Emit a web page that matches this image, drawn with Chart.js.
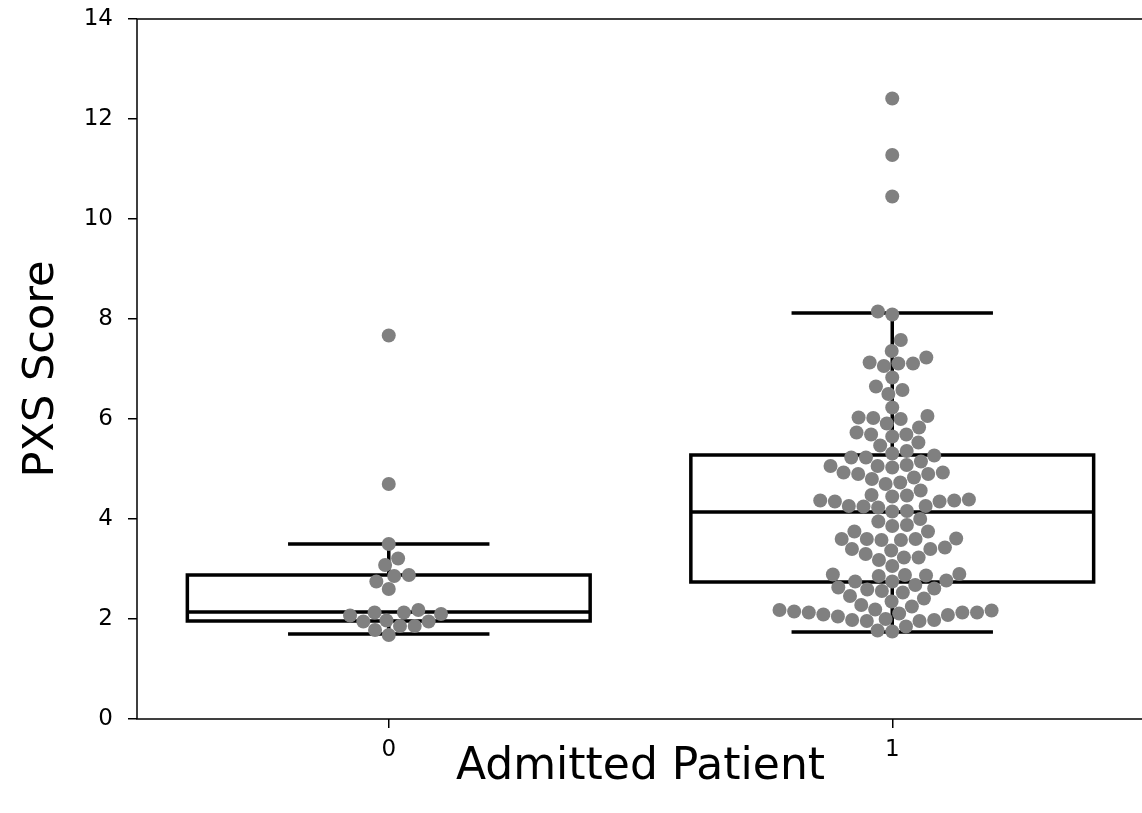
<!DOCTYPE html>
<html>
<head>
<meta charset="utf-8">
<script src="https://cdn.jsdelivr.net/npm/chart.js@4/dist/chart.umd.min.js"></script>
<style>
  html, body { margin: 0; padding: 0; background: #fff; overflow: hidden; }
  #wrap { width: 1144px; height: 813px; }
</style>
</head>
<body>
<div id="wrap"><canvas id="grafico" width="1144" height="813"></canvas></div>
<script>
// categorias del eje x
const categorias = ['0', '1'];

// PXS Score por grupo
const pxsNoAdmitido = [7.67, 4.70, 3.50, 3.21, 3.08, 2.86, 2.88, 2.75, 2.60, 2.13, 2.18,
    2.13, 2.07, 2.10, 1.97, 1.95, 1.95, 1.86, 1.86, 1.78, 1.68];

const pxsAdmitido = [12.41, 11.28, 10.45, 8.15, 8.09,
    7.58, 7.36, 7.13, 7.06, 7.11, 7.11, 7.23, 6.83, 6.58, 6.65, 6.50, 6.23, 6.06, 5.91, 6.00,
    6.02, 6.03, 5.83, 5.65, 5.69, 5.69, 5.73, 5.53, 5.47,
    5.23, 5.15, 5.31, 5.36, 5.23, 5.27,
    5.06, 4.93, 4.90, 4.83, 5.03, 5.08, 4.93, 4.90, 5.06,
    4.73, 4.70, 4.80,
    4.48, 4.45, 4.47, 4.57,
    4.39, 4.37, 4.35, 4.26, 4.25, 4.15, 4.23, 4.16, 4.26, 4.35, 4.37,
    4.00, 3.88, 3.86, 3.95,
    3.75, 3.75,
    3.60, 3.60, 3.58, 3.58, 3.60, 3.61,
    3.40, 3.30, 3.37, 3.40, 3.43,
    3.18, 3.23, 3.23,
    3.06,
    2.88, 2.75, 2.86, 2.90, 2.89, 2.77, 2.87,
    2.63, 2.59, 2.56, 2.75, 2.53, 2.68, 2.61,
    2.46, 2.41,
    2.28, 2.19, 2.35, 2.25,
    2.18, 2.15, 2.13, 2.09, 2.05, 1.98, 1.96, 2.00, 2.11, 1.96, 1.98, 2.08, 2.13, 2.13, 2.17,
    1.77, 1.75, 1.85];

// estadisticos de las cajas
const q1 = [1.96, 2.74];
const mediana = [2.14, 4.14];
const q3 = [2.88, 5.28];
const bigoteInf = [1.70, 1.74];
const bigoteSup = [3.50, 8.12];

// ticks
const yTicks = [0, 2, 4, 6, 8, 10, 12, 14];

const grupos = [pxsNoAdmitido, pxsAdmitido];
const anchoCaja = 0.4;
const diametro = 14;

// cajas y marco, debajo de los puntos
const cajasPlugin = {
    id: 'cajas',
    beforeDatasetsDraw(chart) {
        const ctx = chart.ctx;
        const x = chart.scales.x;
        const y = chart.scales.y;
        const area = chart.chartArea;
        ctx.save();
        ctx.strokeStyle = '#000';
        ctx.lineWidth = 1.5;
        ctx.strokeRect(area.left, area.top, area.right - area.left, area.bottom - area.top);

        ctx.lineWidth = 3.5;
        categorias.forEach(function(cat, i) {
            let xl = x.getPixelForValue(i - anchoCaja);
            let xr = x.getPixelForValue(i + anchoCaja);
            let xc = x.getPixelForValue(i);
            let cl = x.getPixelForValue(i - anchoCaja / 2);
            let cr = x.getPixelForValue(i + anchoCaja / 2);
            let yq1 = y.getPixelForValue(q1[i]);
            let yq3 = y.getPixelForValue(q3[i]);
            let ym = y.getPixelForValue(mediana[i]);
            let ylo = y.getPixelForValue(bigoteInf[i]);
            let yhi = y.getPixelForValue(bigoteSup[i]);

            ctx.fillStyle = '#fff';
            ctx.fillRect(xl, yq3, xr - xl, yq1 - yq3);
            ctx.strokeRect(xl, yq3, xr - xl, yq1 - yq3);

            ctx.beginPath();
            ctx.moveTo(xl, ym); ctx.lineTo(xr, ym);
            ctx.moveTo(xc, yq3); ctx.lineTo(xc, yhi);
            ctx.moveTo(xc, yq1); ctx.lineTo(xc, ylo);
            ctx.moveTo(cl, yhi); ctx.lineTo(cr, yhi);
            ctx.moveTo(cl, ylo); ctx.lineTo(cr, ylo);
            ctx.stroke();
        });
        ctx.restore();
    }
};

// acomodo tipo swarm (como seaborn)
function calcularSwarm(chart, valores, centro) {
    let xs = chart.scales.x;
    let ys = chart.scales.y;
    let cx = xs.getPixelForValue(centro);
    let d = diametro;
    let orden = valores.map(function(v, i) { return i; });
    orden.sort(function(a, b) { return valores[a] - valores[b]; });
    let colocados = [];
    let salida = new Array(valores.length);
    orden.forEach(function(i) {
        let py = ys.getPixelForValue(valores[i]);
        let vecinos = colocados.filter(function(p) { return Math.abs(p.y - py) < d; });
        let candidatos = [cx];
        let izqPrimero = true;
        vecinos.forEach(function(p) {
            let dy = py - p.y;
            let dx = Math.sqrt(Math.max(d * d - dy * dy, 0)) * 1.05;
            if (izqPrimero) candidatos.push(p.x - dx, p.x + dx);
            else candidatos.push(p.x + dx, p.x - dx);
            izqPrimero = !izqPrimero;
        });
        candidatos.sort(function(a, b) { return Math.abs(a - cx) - Math.abs(b - cx); });
        let px = candidatos.find(function(c) {
            return vecinos.every(function(p) {
                return (c - p.x) * (c - p.x) + (py - p.y) * (py - p.y) >= d * d * 0.999;
            });
        });
        if (px === undefined) px = cx;
        colocados.push({ x: px, y: py });
        salida[i] = { x: xs.getValueForPixel(px), y: valores[i] };
    });
    return salida;
}

function sinPadding(scale) {
    scale.paddingTop = 0;
    scale.paddingBottom = 0;
    scale.paddingLeft = 0;
    scale.paddingRight = 0;
}

let ctx = document.getElementById('grafico').getContext('2d');
let chart = new Chart(ctx, {
    type: 'scatter',
    data: {
        datasets: grupos.map(function(vals, i) {
            return {
                data: vals.map(function(v) { return { x: i, y: v }; }),
                backgroundColor: '#808080',
                borderWidth: 0,
                pointRadius: diametro / 2,
                pointHoverRadius: diametro / 2
            };
        })
    },
    options: {
        responsive: false,
        animation: false,
        layout: { autoPadding: false, padding: { top: 19, left: 0, right: 0, bottom: 0 } },
        plugins: { legend: { display: false }, tooltip: { enabled: false } },
        scales: {
            x: {
                type: 'linear',
                min: -0.5,
                max: 1.5,
                afterBuildTicks: function(scale) {
                    scale.ticks = categorias.map(function(c, i) { return { value: i }; });
                },
                afterFit: function(scale) { scale.height = 94; sinPadding(scale); },
                ticks: {
                    callback: function(v) { return categorias[v]; },
                    color: '#000',
                    font: { family: 'DejaVu Sans', size: 23 },
                    padding: 8,
                    maxRotation: 0
                },
                grid: { drawOnChartArea: false, drawTicks: true, tickLength: 9, color: '#000', lineWidth: 1.5 },
                border: { display: false },
                title: {
                    display: true,
                    text: 'Admitted Patient',
                    color: '#000',
                    font: { family: 'DejaVu Sans', size: 44 },
                    padding: { top: 0, bottom: 19 }
                }
            },
            y: {
                min: 0,
                max: 14,
                afterBuildTicks: function(scale) {
                    scale.ticks = yTicks.map(function(v) { return { value: v }; });
                },
                afterFit: function(scale) { scale.width = 137; sinPadding(scale); },
                ticks: {
                    color: '#000',
                    font: { family: 'DejaVu Sans', size: 23 },
                    padding: 15
                },
                grid: { drawOnChartArea: false, drawTicks: true, tickLength: 9, color: '#000', lineWidth: 1.5 },
                border: { display: false },
                title: {
                    display: true,
                    text: 'PXS Score',
                    color: '#000',
                    font: { family: 'DejaVu Sans', size: 43 },
                    padding: { top: 16, bottom: 0 }
                }
            }
        }
    },
    plugins: [cajasPlugin]
});

grupos.forEach(function(vals, i) {
    chart.data.datasets[i].data = calcularSwarm(chart, vals, i);
});
chart.update('none');
</script>
</body>
</html>
